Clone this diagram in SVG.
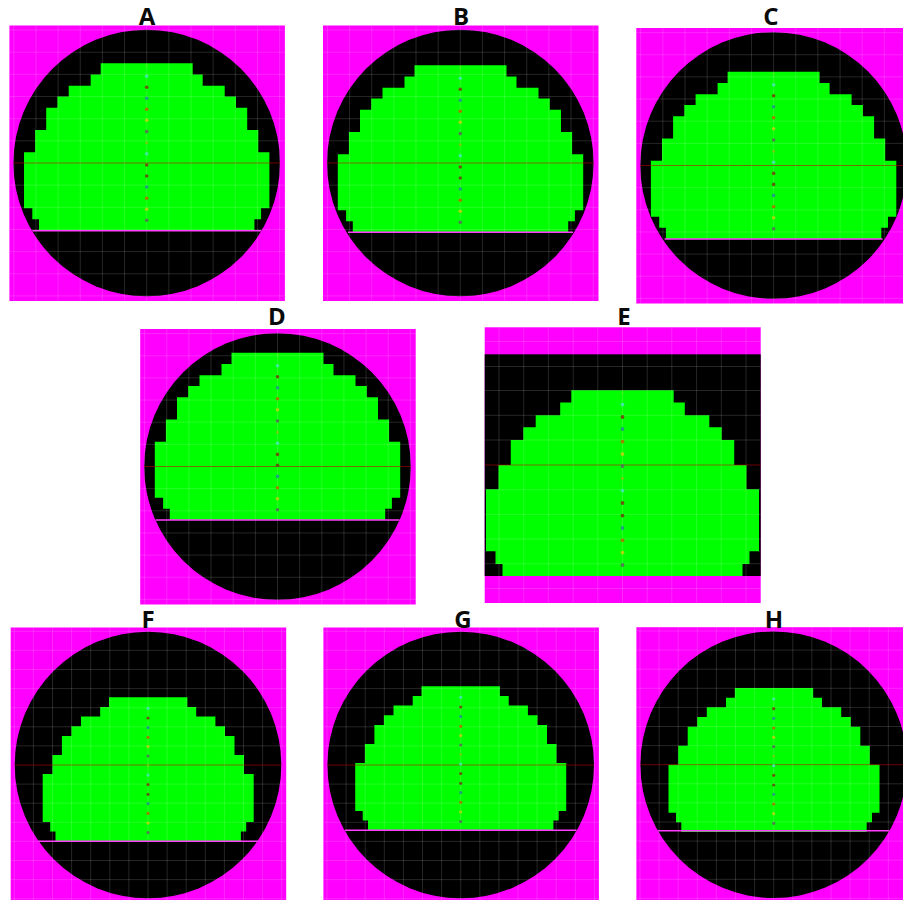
<svg xmlns="http://www.w3.org/2000/svg" width="903" height="900" viewBox="0 0 903 900">
<style>
.label{font-family:"Open Sans","Liberation Sans",sans-serif;font-weight:700;font-size:24px;fill:#0a0a0a;text-anchor:middle}
.mag{fill:#ff00ff}
.blk{fill:#000}
.grn{fill:#00ff00}
.grid{fill:none;stroke:#fff;stroke-opacity:.15;stroke-width:1}
.axis{fill:none;stroke:#c80000;stroke-opacity:.55;stroke-width:1}
.chord{fill:none;stroke:#ff3cff;stroke-width:1.4}
.d0{fill:#60e820}.d1{fill:#40e8a0}.d2{fill:#6a5a10}.d3{fill:#20a080}.d4{fill:#a08000}.d5{fill:#a8d810}.d6{fill:#508050}.d7{fill:#70d010}.d8{fill:#5a6010}
</style>
<defs>
<g id="disc">
<rect class="mag" x="-137.3" y="-137.5" width="275.5" height="275.5"/>
<circle class="blk" cx="0" cy="0" r="133.3"/>
</g>
<path id="grid22" class="grid" d="M-132.9-137.5V138M-110.75-137.5V138M-88.6-137.5V138M-66.45-137.5V138M-44.3-137.5V138M-22.15-137.5V138M0-137.5V138M22.15-137.5V138M44.3-137.5V138M66.45-137.5V138M88.6-137.5V138M110.75-137.5V138M132.9-137.5V138M-137.3-132.9H138.2M-137.3-110.75H138.2M-137.3-88.6H138.2M-137.3-66.45H138.2M-137.3-44.3H138.2M-137.3-22.15H138.2M-137.3 22.15H138.2M-137.3 44.3H138.2M-137.3 66.45H138.2M-137.3 88.6H138.2M-137.3 110.75H138.2M-137.3 132.9H138.2"/>
<path id="grid19" class="grid" d="M-133.7-137.5V138M-114.6-137.5V138M-95.5-137.5V138M-76.4-137.5V138M-57.3-137.5V138M-38.2-137.5V138M-19.1-137.5V138M0-137.5V138M19.1-137.5V138M38.2-137.5V138M57.3-137.5V138M76.4-137.5V138M95.5-137.5V138M114.6-137.5V138M133.7-137.5V138M-137.3-133.7H138.2M-137.3-114.6H138.2M-137.3-95.5H138.2M-137.3-76.4H138.2M-137.3-57.3H138.2M-137.3-38.2H138.2M-137.3-19.1H138.2M-137.3 19.1H138.2M-137.3 38.2H138.2M-137.3 57.3H138.2M-137.3 76.4H138.2M-137.3 95.5H138.2M-137.3 114.6H138.2M-137.3 133.7H138.2"/>
<path id="shapeL" class="grn" d="M-46 0H46V11.2H56V22.5H78V33.3H89.3V44.5H100.5V66.7H111.6V89H122.7V145H114.4V156H107.7V167.3H-107.7V156H-114.4V145H-122.7V89H-111.6V66.7H-100.5V44.5H-89.3V33.3H-78V22.5H-56V11.2H-46Z"/>
<path id="shapeS" class="grn" d="M-39.2 0H39.2V9.7H48V19.3H67.2V29H76.8V38.7H86.3V57.7H95.8V76.7H105.5V124.7H98V134.3H92.7V144H-92.7V134.3H-98V124.7H-105.5V76.7H-95.8V57.7H-86.3V38.7H-76.8V29H-67.2V19.3H-48V9.7H-39.2Z"/>
<g id="dotsL">
<circle class="d0" cx="0" cy="2" r="1.2" opacity=".5"/><circle class="d1" cx="0" cy="13" r="1.8"/><circle class="d2" cx="0" cy="24" r="1.8"/><circle class="d3" cx="0" cy="35" r="1.8"/><circle class="d4" cx="0" cy="46" r="1.8"/><circle class="d5" cx="0" cy="57" r="1.8"/><circle class="d6" cx="0" cy="68.3" r="1.8"/><circle class="d7" cx="0" cy="79.5" r="1.5"/><circle class="d1" cx="0" cy="90.5" r="1.8"/><circle class="d2" cx="0" cy="101.7" r="1.8"/><circle class="d8" cx="0" cy="112.7" r="1.8"/><circle class="d3" cx="0" cy="123.7" r="1.8"/><circle class="d4" cx="0" cy="135" r="1.8"/><circle class="d5" cx="0" cy="146" r="1.8"/><circle class="d6" cx="0" cy="157" r="1.8"/>
</g>
<g id="dotsS">
<circle class="d1" cx="0" cy="11" r="1.6"/><circle class="d2" cx="0" cy="20.7" r="1.6"/><circle class="d3" cx="0" cy="30.3" r="1.6"/><circle class="d4" cx="0" cy="40" r="1.6"/><circle class="d5" cx="0" cy="49.3" r="1.6"/><circle class="d6" cx="0" cy="58.7" r="1.6"/><circle class="d7" cx="0" cy="68.3" r="1.3"/><circle class="d1" cx="0" cy="77.7" r="1.6"/><circle class="d2" cx="0" cy="87.3" r="1.6"/><circle class="d8" cx="0" cy="97" r="1.6"/><circle class="d3" cx="0" cy="106.3" r="1.6"/><circle class="d4" cx="0" cy="116" r="1.6"/><circle class="d5" cx="0" cy="125.7" r="1.6"/><circle class="d6" cx="0" cy="135.3" r="1.6"/>
</g>
</defs>
<rect width="903" height="900" fill="#fff"/>

<g id="panel-a">
<use href="#disc" x="146.7" y="163"/>
<use href="#shapeL" x="146.7" y="63.3"/>
<use href="#grid22" x="146.7" y="163"/>
<path class="axis" d="M13.4 163H280"/>
<path class="chord" d="M32.3 230.8H261.1"/>
<use href="#dotsL" x="146.7" y="63.3"/>
<text class="label" x="147" y="24.5">A</text>
</g>

<g id="panel-b">
<use href="#disc" x="460.3" y="163"/>
<use href="#shapeL" x="460.5" y="65.3"/>
<use href="#grid22" x="460.3" y="163"/>
<path class="axis" d="M327 163H593.6"/>
<path class="chord" d="M348 232.2H573"/>
<use href="#dotsL" x="460.3" y="65.3"/>
<text class="label" x="461" y="24.5">B</text>
</g>

<g id="panel-c">
<use href="#disc" x="773.6" y="165.5"/>
<use href="#shapeL" x="773.6" y="71.7"/>
<use href="#grid22" x="773.6" y="165.5"/>
<path class="axis" d="M640.3 165.5H903"/>
<path class="chord" d="M664.6 239H882.6"/>
<use href="#dotsL" x="773.6" y="71.7"/>
<text class="label" x="771" y="24.5">C</text>
</g>

<g id="panel-d">
<use href="#disc" x="277.5" y="466.5"/>
<use href="#shapeL" x="277.5" y="352.7"/>
<use href="#grid22" x="277.5" y="466.5"/>
<path class="axis" d="M144.2 466.5H410.8"/>
<path class="chord" d="M155.6 520H399.4"/>
<use href="#dotsL" x="277.5" y="352.7"/>
<text class="label" x="277" y="325">D</text>
</g>

<g id="panel-e">
<rect class="mag" x="484.7" y="327.3" width="276" height="275.7"/>
<rect class="blk" x="484.7" y="354.3" width="276" height="221.7"/>
<path class="grn" transform="translate(622.5 390.3)" d="M-51.2 0H51.2V12.3H62.3V25H86.8V37H99.2V49.7H111.7V74.7H124V99H136.5V161H127V173.7H120V185.7H-120V173.7H-127V161H-136.5V99H-124V74.7H-111.7V49.7H-99.2V37H-86.8V25H-62.3V12.3H-51.2Z"/>
<path class="grid" d="M499 327.3V603M523.7 327.3V603M548.4 327.3V603M573.2 327.3V603M597.8 327.3V603M622.5 327.3V603M647.2 327.3V603M671.8 327.3V603M696.6 327.3V603M721.3 327.3V603M746 327.3V603M484.7 341.5H760.7M484.7 366.5H760.7M484.7 390.5H760.7M484.7 415.3H760.7M484.7 440H760.7M484.7 489.7H760.7M484.7 514.4H760.7M484.7 539H760.7M484.7 563.7H760.7M484.7 588.5H760.7"/>
<path class="axis" d="M484.7 465H760.7"/>
<g transform="translate(622.5 390.3)">
<circle class="d0" cx="0" cy="2" r="1.2" opacity=".5"/><circle class="d1" cx="0" cy="14.3" r="1.9"/><circle class="d2" cx="0" cy="26.7" r="1.9"/><circle class="d3" cx="0" cy="38.7" r="1.9"/><circle class="d4" cx="0" cy="51.3" r="1.9"/><circle class="d5" cx="0" cy="63.7" r="1.9"/><circle class="d6" cx="0" cy="75.7" r="1.9"/><circle class="d7" cx="0" cy="88" r="1.6"/><circle class="d1" cx="0" cy="100.3" r="1.9"/><circle class="d2" cx="0" cy="112.7" r="1.9"/><circle class="d8" cx="0" cy="125.3" r="1.9"/><circle class="d3" cx="0" cy="137.7" r="1.9"/><circle class="d4" cx="0" cy="150" r="1.9"/><circle class="d5" cx="0" cy="162.3" r="1.9"/><circle class="d6" cx="0" cy="174.7" r="1.9"/>
</g>
<text class="label" x="624" y="325">E</text>
</g>

<g id="panel-f">
<use href="#disc" x="148" y="765"/>
<use href="#shapeS" x="148.2" y="697.3"/>
<use href="#grid19" x="148" y="765"/>
<path class="axis" d="M14.7 765H281.3"/>
<path class="chord" d="M38.2 841.3H257.8"/>
<use href="#dotsS" x="148" y="697.3"/>
<text class="label" x="148" y="627.5">F</text>
</g>

<g id="panel-g">
<use href="#disc" x="460.7" y="765"/>
<use href="#shapeS" x="460.7" y="686.3"/>
<use href="#grid19" x="460.7" y="765"/>
<path class="axis" d="M327.4 765H594"/>
<path class="chord" d="M344.9 830.3H576.5"/>
<use href="#dotsS" x="460.7" y="686.3"/>
<text class="label" x="463" y="627.5">G</text>
</g>

<g id="panel-h">
<use href="#disc" x="773.7" y="764.7"/>
<use href="#shapeS" x="774" y="688"/>
<use href="#grid19" x="773.7" y="764.7"/>
<path class="axis" d="M640.4 764.7H903"/>
<path class="chord" d="M657.9 830.7H889.5"/>
<use href="#dotsS" x="773.7" y="688"/>
<text class="label" x="774" y="627.5">H</text>
</g>
</svg>
